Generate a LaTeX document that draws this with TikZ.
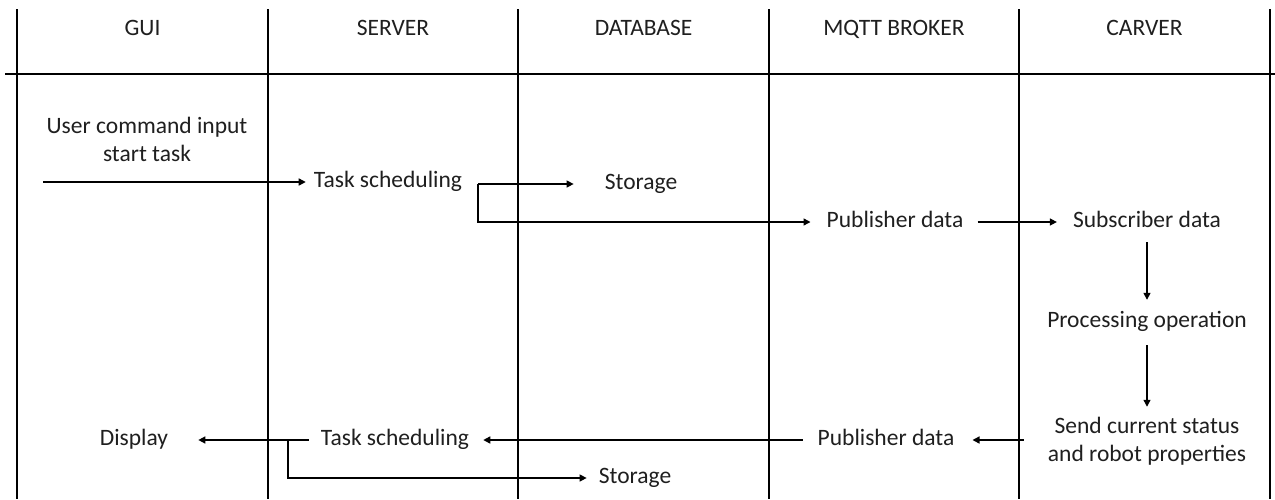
\documentclass[tikz,border=0pt]{standalone}
\usepackage{fontspec}
\setmainfont{Carlito}
\usetikzlibrary{arrows.meta}
\begin{document}
\begin{tikzpicture}[x=1pt,y=-1pt,
  lbl/.style={inner sep=0pt, font=\fontsize{23.5}{28}\selectfont, text=black!88, text height=15pt, text depth=5pt},
  lbltwo/.style={inner sep=0pt, font=\fontsize{23.5}{28}\selectfont, text=black!88, align=center},
  lane/.style={line width=1.8pt, black},
  arr/.style={line width=1.4pt, black, -{Triangle[length=7pt,width=7pt]}},
  link/.style={line width=1.4pt, black}]
\useasboundingbox (0,0) rectangle (1275,499);
\fill[white] (0,0) rectangle (1275,499);

% swimlane grid
\draw[lane] (17,9) -- (17,499);
\draw[lane] (268,9) -- (268,499);
\draw[lane] (518,9) -- (518,499);
\draw[lane] (769,9) -- (769,499);
\draw[lane] (1019,9) -- (1019,499);
\draw[lane] (1270,9) -- (1270,499);
\draw[lane] (5,74) -- (1275,74);

% headers
\node[lbl] (hgui) at (142.5,30) {GUI};
\node[lbl] (hsrv) at (393,30) {SERVER};
\node[lbl] (hdb) at (643.5,30) {DATABASE};
\node[lbl] (hmq) at (894,30) {MQTT BROKER};
\node[lbl] (hcv) at (1144.5,30) {CARVER};

% top flow
\node[lbltwo] (uci) at (147,139) {User command input\\start task};
\coordinate (s1) at (43,182);
\node[lbl] (ts1) at (388,182) {Task scheduling};
\draw[arr, shorten >=8pt] (s1) -- (s1 -| ts1.west);

\coordinate (b1) at (478,184);
\node[lbl] (st1) at (641,184) {Storage};
\draw[arr, shorten >=31pt] (b1) -- (st1.west);
\node[lbl] (pd1) at (895,222) {Publisher data};
\draw[arr, shorten >=16pt] (b1) |- (pd1.west);
\node[lbl] (sd1) at (1147,222) {Subscriber data};
\draw[arr, shorten <=14pt, shorten >=16pt] (pd1.east) -- (sd1.west);
\node[lbl] (po) at (1147,322) {Processing operation};
\draw[arr, shorten <=10pt, shorten >=12pt] (sd1.south) -- (po.north);
\node[lbltwo] (scs) at (1147,441) {Send current status\\and robot properties};
\draw[arr, shorten <=13pt, shorten >=10pt] (po.south) -- (scs.north);

% return flow
\node[lbl] (pd2) at (886,440) {Publisher data};
\draw[arr, shorten <=24pt, shorten >=18pt] (pd2 -| scs.west) -- (pd2.east);
\node[lbl] (ts2) at (395,440) {Task scheduling};
\draw[arr, shorten <=15pt, shorten >=14pt] (pd2.west) -- (ts2.east);
\node[lbl] (disp) at (134,440) {Display};
\draw[arr, shorten <=12pt, shorten >=30pt] (ts2.west) -- (disp.east);
\coordinate (b2) at (288,440);
\node[lbl] (st2) at (635,478) {Storage};
\draw[arr, shorten >=12pt] (b2) |- (st2.west);
\end{tikzpicture}
\end{document}
